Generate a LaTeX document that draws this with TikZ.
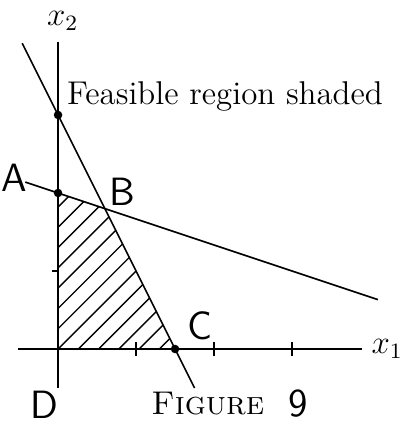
\documentclass[tikz,border=0pt]{standalone}
\usepackage{tikz}
\usetikzlibrary{positioning}

\begin{document}
\begin{tikzpicture}[font=\large,
    axis/.style={line width=0.8pt},
    bound/.style={line width=0.6pt},
    hatch/.style={line width=0.5pt},
    tick/.style={line width=0.7pt},
    vertex/.style={circle,fill=black,inner sep=1.1pt},
    hand/.style={font=\Large\sffamily,inner sep=1pt}]
  \useasboundingbox (-0.744,-0.987) rectangle (4.436,4.474);
  % shaded feasible region
  \begin{scope}
    \clip (0,0) -- (1.5,0) -- (0.6,1.8) -- (0,2) -- cycle;
    \foreach \c in {-1.56,-1.30,...,2.0}
      \draw[hatch] (0,\c) -- ++(2.2,2.2);
  \end{scope}
  % axes
  \node (xone) at (4.22,0) {$x_1$};
  \node (xtwo) at (0.06,4.2) {$x_2$};
  \coordinate (xleft) at (-0.51,0);
  \coordinate (ybot) at (0,-0.5);
  \coordinate (ytop) at (0,3.94);
  \draw[axis] (xleft) -- (xone.west);
  \draw[axis] (ybot) -- (ytop);
  \foreach \x in {1,2,3}
    \draw[tick] (\x,-0.09) -- (\x,0.09);
  \draw[tick] (-0.08,1) -- (0,1);
  % constraint lines
  \coordinate (s1) at (-0.46,3.92);
  \coordinate (s2) at (1.75,-0.5);
  \coordinate (f1) at (-0.42,2.14);
  \coordinate (f2) at (4.1,0.633);
  \draw[bound] (s1) -- (s2);
  \draw[bound] (f1) -- (f2);
  \node[vertex] (top) at (0,3) {};
  \node[vertex] (ptA) at (0,2) {};
  \node[vertex] (ptC) at (1.5,0) {};
  % labels
  \node (feas) at (2.14,3.24) {Feasible region shaded};
  \node[hand] (lA) at (-0.56,2.19) {A};
  \node[hand] (lB) at (0.83,2.02) {B};
  \node[hand] (lC) at (1.82,0.3) {C};
  \node[hand] (lD) at (-0.17,-0.72) {D};
  \node (fig) at (1.92,-0.7) {\textsc{Figure}};
  \node[hand,right=4pt of fig] (num) {9};
\end{tikzpicture}
\end{document}
